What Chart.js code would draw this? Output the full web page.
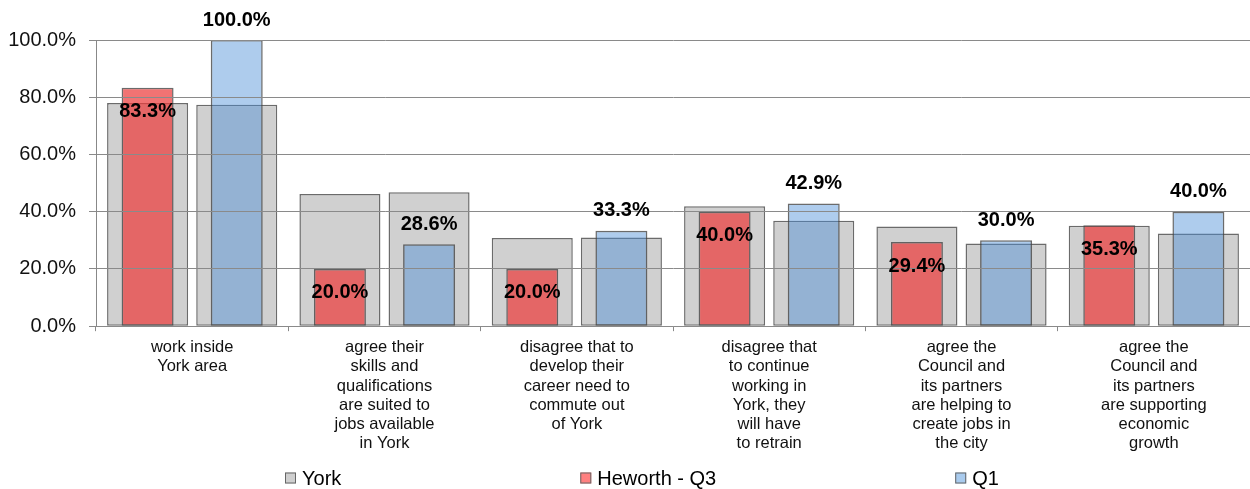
<!DOCTYPE html>
<html>
<head>
<meta charset="utf-8">
<title>York comparison</title>
<script src="https://cdn.jsdelivr.net/npm/chart.js@4/dist/chart.umd.min.js"></script>
<style>
  html, body { margin: 0; padding: 0; background: #fff; overflow: hidden; }
  #wrap { width: 1250px; height: 489px; position: relative; }
</style>
</head>
<body>
<div id="wrap"><canvas id="chart"></canvas></div>
<script>
// categories (x axis labels, already broken into lines)
var categories = [
    ['work inside', 'York area'],
    ['agree their', 'skills and', 'qualifications', 'are suited to', 'jobs available', 'in York'],
    ['disagree that to', 'develop their', 'career need to', 'commute out', 'of York'],
    ['disagree that', 'to continue', 'working in', 'York, they', 'will have', 'to retrain'],
    ['agree the', 'Council and', 'its partners', 'are helping to', 'create jobs in', 'the city'],
    ['agree the', 'Council and', 'its partners', 'are supporting', 'economic', 'growth']
];

// York figure shown behind the Q3 bar and behind the Q1 bar
var yorkQ3 = [78.0, 46.2, 30.8, 41.9, 34.8, 35.1];
var yorkQ1 = [77.4, 46.8, 31.0, 36.8, 28.9, 32.4];
var heworthQ3 = [83.3, 20.0, 20.0, 40.0, 29.4, 35.3];
var q1 = [100.0, 28.6, 33.3, 42.9, 30.0, 40.0];

var yTicks = [0, 20, 40, 60, 80, 100];
var legendLabels = ['York', 'Heworth - Q3', 'Q1'];

var FONT = '"Liberation Sans", Arial, Helvetica, sans-serif';
var greyFill = '#d0d0d0';
var redFill = 'rgba(235, 61, 61, 0.72)';
var blueFill = 'rgba(75, 142, 215, 0.45)';
var edge = 'rgba(70, 70, 70, 0.8)';
var legendColors = ['#cfcfcf', '#ff8080', '#a9cbee'];

// value labels: red ones sit inside the bar top, blue ones above it
let valueLabels = {
    id: 'valueLabels',
    afterDraw: function (chart) {
        let ctx = chart.ctx;
        ctx.save();
        ctx.font = 'bold 20px ' + FONT;
        ctx.fillStyle = '#000';
        ctx.textAlign = 'center';
        ctx.textBaseline = 'middle';
        [1, 2].forEach(function (di) {
            let meta = chart.getDatasetMeta(di);
            let vals = chart.data.datasets[di].data;
            meta.data.forEach(function (bar, i) {
                let y = di == 1 ? bar.y + 24 : bar.y - 20;
                ctx.fillText(vals[i].toFixed(1) + '%', bar.x, y);
            });
        });
        ctx.restore();
    }
};

// Excel style legend spread along the bottom
let spreadLegend = {
    id: 'spreadLegend',
    afterDraw: function (chart) {
        let ctx = chart.ctx;
        ctx.save();
        ctx.font = '20px ' + FONT;
        ctx.textBaseline = 'middle';
        ctx.textAlign = 'left';
        let x = 285;
        let y = 478;
        legendLabels.forEach(function (txt, i) {
            ctx.fillStyle = legendColors[i];
            ctx.fillRect(x, y - 5.5, 11, 11);
            ctx.strokeStyle = '#666';
            ctx.lineWidth = 1;
            ctx.strokeRect(x + 0.5, y - 5, 10, 10);
            ctx.fillStyle = '#000';
            ctx.fillText(txt, x + 17, y + 1);
            x += 17 + ctx.measureText(txt).width + 239;
        });
        ctx.restore();
    }
};

let barBase = {
    categoryPercentage: 0.927,
    borderColor: edge,
    borderWidth: 1.5,
    borderSkipped: false
};

let datasets = [
    Object.assign({ label: 'York', data: yorkQ3, stack: 'q3', order: 2, backgroundColor: greyFill, barPercentage: 0.909 }, barBase),
    Object.assign({ label: 'Heworth - Q3', data: heworthQ3, stack: 'q3', order: 1, backgroundColor: redFill, barPercentage: 0.583 }, barBase),
    Object.assign({ label: 'Q1', data: q1, stack: 'q1', order: 1, backgroundColor: blueFill, barPercentage: 0.583 }, barBase),
    Object.assign({ label: 'York', data: yorkQ1, stack: 'q1', order: 2, backgroundColor: greyFill, barPercentage: 0.909 }, barBase)
];

new Chart(document.getElementById('chart'), {
    type: 'bar',
    data: { labels: categories, datasets: datasets },
    options: {
        responsive: true,
        maintainAspectRatio: false,
        animation: false,
        layout: { padding: { top: 40, right: 0, bottom: 29, left: 0 } },
        plugins: {
            legend: { display: false },
            tooltip: { enabled: false },
            title: { display: false }
        },
        scales: {
            x: {
                grid: { drawOnChartArea: false, drawTicks: true, tickLength: 5, color: '#888', offset: true },
                border: { color: '#888' },
                ticks: {
                    color: '#111',
                    font: { family: FONT, size: 16.5, lineHeight: 1.16 },
                    padding: 7,
                    maxRotation: 0,
                    autoSkip: false
                }
            },
            y: {
                stacked: false,
                min: 0,
                max: 100,
                afterBuildTicks: function (scale) {
                    scale.ticks = yTicks.map(function (v) { return { value: v }; });
                },
                afterFit: function (scale) { scale.width = 96; },
                grid: { color: '#8a8a8a', tickLength: 7, z: 1 },
                border: { color: '#888', z: 1 },
                ticks: {
                    color: '#111',
                    font: { family: FONT, size: 20 },
                    padding: 13,
                    callback: function (v) { return v.toFixed(1) + '%'; }
                }
            }
        }
    },
    plugins: [valueLabels, spreadLegend]
});
</script>
</body>
</html>
